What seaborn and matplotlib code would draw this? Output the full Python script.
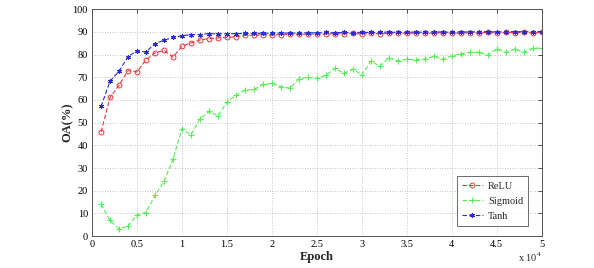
import numpy as np
import pandas as pd
import matplotlib
matplotlib.use("Agg")
import matplotlib.pyplot as plt
import seaborn as sns

# epochs in units of 1e4
epochs = [round(0.1 * i, 1) for i in range(1, 51)]

relu = [45.9, 61.1, 66.5, 72.9, 72.3, 77.7, 80.7, 81.8, 78.9, 83.6,
        85.1, 86.4, 87.0, 87.3, 87.6, 87.8, 88.5, 88.5, 88.7, 88.5,
        88.8, 88.9, 89.0, 88.9, 89.1, 89.0, 89.2, 89.1, 89.3, 89.0,
        89.3, 89.2, 89.4, 89.3, 89.5, 89.4, 89.3, 89.5, 89.6, 89.4,
        89.5, 89.6, 89.5, 89.7, 89.4, 89.7, 89.6, 89.8, 89.5, 89.7]
sigmoid = [14.0, 6.9, 3.2, 4.4, 9.4, 10.4, 18.0, 24.1, 34.0, 47.2,
           44.6, 51.7, 54.9, 53.0, 59.0, 62.0, 64.3, 64.6, 66.8, 67.3,
           65.8, 65.2, 69.2, 69.9, 69.5, 70.8, 73.9, 71.7, 73.5, 71.0,
           77.0, 74.9, 78.5, 77.2, 77.9, 77.7, 78.0, 79.2, 77.9, 79.4,
           80.3, 80.9, 81.0, 79.7, 82.4, 80.9, 82.4, 80.9, 82.7, 82.9]
tanh = [57.1, 68.3, 72.6, 79.1, 81.6, 81.1, 84.8, 86.3, 87.5, 88.2,
        88.8, 88.8, 89.2, 89.1, 89.1, 89.2, 89.3, 89.3, 89.4, 89.3,
        89.5, 89.4, 89.5, 89.6, 89.5, 89.7, 89.6, 89.7, 89.6, 89.8,
        89.7, 89.8, 89.9, 89.7, 89.8, 89.9, 89.8, 90.0, 89.9, 89.8,
        90.0, 89.9, 90.0, 90.1, 89.9, 90.0, 90.1, 90.0, 90.1, 90.1]

df = pd.DataFrame({
    "Epoch": epochs * 3,
    "OA": relu + sigmoid + tanh,
    "Activation": ["ReLU"] * 50 + ["Sigmoid"] * 50 + ["Tanh"] * 50,
})

sns.set_style("white")
plt.rcParams["font.family"] = ["Liberation Serif", "DejaVu Serif"]
plt.rcParams["mathtext.fontset"] = "custom"
plt.rcParams["mathtext.rm"] = "Liberation Serif"

fig = plt.figure(figsize=(5.94, 2.68), dpi=100)
ax = fig.add_axes([0.155, 0.119, 0.757, 0.847])

palette = {"ReLU": "#e8383d", "Sigmoid": "#55ee55", "Tanh": "#2a2ad8"}
styles = {
    "ReLU": dict(marker="o", ms=3.5, mfc="none", mew=0.7),
    "Sigmoid": dict(marker="+", ms=4, mew=0.8),
    "Tanh": dict(marker=(6, 2, 0), ms=3.5, mew=0.8),
}
for name in ["ReLU", "Sigmoid", "Tanh"]:
    sub = df[df["Activation"] == name]
    sns.lineplot(data=sub, x="Epoch", y="OA", ax=ax, color=palette[name],
                 linestyle=(0, (4, 2)), linewidth=0.8, label=name,
                 mec=palette[name], **styles[name])

ax.set_xlim(0, 5)
ax.set_ylim(0, 100)
ax.set_xticks([0, 0.5, 1, 1.5, 2, 2.5, 3, 3.5, 4, 4.5, 5])
ax.set_xticklabels(["0", "0.5", "1", "1.5", "2", "2.5", "3", "3.5", "4", "4.5", "5"])
ax.set_yticks(range(0, 101, 10))
ax.tick_params(direction="in", length=3, width=0.6, labelsize=7.5,
               top=True, right=True, colors="#333333", labelcolor="black", pad=3)
ax.grid(True, linestyle=(0, (1, 2)), color="#b0b0b0", linewidth=0.6)
for s in ax.spines.values():
    s.set_color("#555555")
    s.set_linewidth(0.7)

ax.set_xlabel("Epoch", fontsize=9, fontweight="bold", labelpad=1)
ax.set_ylabel("OA(%)", fontsize=9, fontweight="bold")
ax.yaxis.set_label_coords(-0.042, 0.5)
ax.text(1.0, -0.092, r"x 10$^{4}$", transform=ax.transAxes, ha="right",
        va="center", fontsize=7.5)

leg = ax.legend(loc="lower right", bbox_to_anchor=(0.97, 0.044), fontsize=7.5,
                frameon=True, fancybox=False, edgecolor="#444444",
                handlelength=2.0, handletextpad=0.5, borderpad=0.5,
                labelspacing=0.55, borderaxespad=0)
leg.get_frame().set_linewidth(0.7)

fig.savefig("out.png", dpi=100)
